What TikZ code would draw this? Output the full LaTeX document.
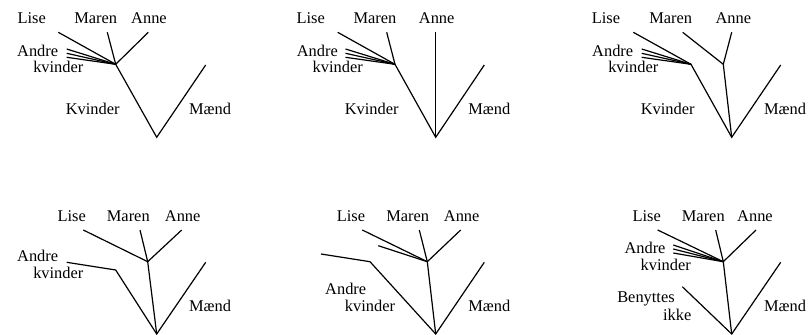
\documentclass[tikz,border=0pt]{standalone}
\usepackage{fontspec}
\setmainfont{Liberation Serif}
\usetikzlibrary{positioning,calc}

\begin{document}
\begin{tikzpicture}[x=0.75pt,y=-0.75pt,
        branch/.style={line width=0.9pt},
        lbl/.style={inner sep=0pt,anchor=base,font=\fontsize{12.3}{14}\selectfont}]
            \useasboundingbox (0,0) rectangle (808,335);

            % tree 1: Kvinder / Maend, all women in one node
            \coordinate (aroot) at (156.7,137.3);
            \coordinate (aw) at (115.7,64.3);
            \coordinate (amen) at (205.7,65);
            \coordinate (alise) at (58.3,32.3);
            \coordinate (amaren) at (107.3,32.3);
            \coordinate (aanne) at (148.3,32.3);
            \draw[branch] (aw) -- (aroot) -- (amen);
            \draw[branch] (alise) -- (aw);
            \draw[branch] (amaren) -- (aw);
            \draw[branch] (aanne) -- (aw);
            \foreach \y in {49,53.3,57.3}
            {
                \draw[branch] (66.7,\y) -- (aw);
            }
            \node[lbl] (alisel) at (31.7,24) {Lise};
            \node[lbl] (amarenl) at (95.7,24) {Maren};
            \node[lbl] (aannel) at (149,24) {Anne};
            \node[lbl] (aandrel) at (37.7,56.7) {Andre};
            \node[lbl] (akvl) at (58.3,72.7) {kvinder};
            \node[lbl] (awl) at (92.7,114.3) {Kvinder};
            \node[lbl] (amenl) at (210,114.3) {Mænd};

            % tree 2: Anne straight from the root
            \coordinate (broot) at (435.7,137.3);
            \coordinate (bw) at (395,64.3);
            \coordinate (bmen) at (484.3,65);
            \coordinate (blise) at (337.7,32.3);
            \coordinate (bmaren) at (386.7,32.3);
            \coordinate (banne) at (435.7,32.3);
            \draw[branch] (bw) -- (broot) -- (bmen);
            \draw[branch] (banne) -- (broot);
            \draw[branch] (blise) -- (bw);
            \draw[branch] (bmaren) -- (bw);
            \foreach \y in {49,53.3,57.3}
            {
                \draw[branch] (345.5,\y) -- (bw);
            }
            \node[lbl] (blisel) at (310.7,24) {Lise};
            \node[lbl] (bmarenl) at (375,24) {Maren};
            \node[lbl] (bannel) at (436.7,24) {Anne};
            \node[lbl] (bandrel) at (317.3,56.7) {Andre};
            \node[lbl] (bkvl) at (337.7,72.7) {kvinder};
            \node[lbl] (bwl) at (371.7,114.3) {Kvinder};
            \node[lbl] (bmenl) at (489.3,114.3) {Mænd};

            % tree 3: Maren and Anne in their own node
            \coordinate (croot) at (731.7,137.3);
            \coordinate (cw) at (691,64.3);
            \coordinate (cma) at (723.3,64.3);
            \coordinate (cmen) at (780.7,65);
            \coordinate (clise) at (633.3,32.3);
            \coordinate (cmaren) at (682.7,32.3);
            \coordinate (canne) at (731.7,32.3);
            \draw[branch] (cw) -- (croot) -- (cmen);
            \draw[branch] (cma) -- (croot);
            \draw[branch] (cmaren) -- (cma) -- (canne);
            \draw[branch] (clise) -- (cw);
            \foreach \y in {49,53.3,57.3}
            {
                \draw[branch] (641.7,\y) -- (cw);
            }
            \node[lbl] (clisel) at (606,24) {Lise};
            \node[lbl] (cmarenl) at (670.7,24) {Maren};
            \node[lbl] (cannel) at (733.3,24) {Anne};
            \node[lbl] (candrel) at (612.7,56.7) {Andre};
            \node[lbl] (ckvl) at (633.3,72.7) {kvinder};
            \node[lbl] (cwl) at (667.7,114.3) {Kvinder};
            \node[lbl] (cmenl) at (785,114.3) {Mænd};

            % tree 4: andre kvinder on a branch of their own
            \coordinate (droot) at (156.7,334);
            \coordinate (dn) at (147.7,261.7);
            \coordinate (dbend) at (115.7,270);
            \coordinate (dandre) at (66.7,262.3);
            \coordinate (dmen) at (205.7,262.3);
            \coordinate (dlise) at (83.3,230);
            \coordinate (dmaren) at (140,230);
            \coordinate (danne) at (181.7,230);
            \draw[branch] (dandre) -- (dbend) -- (droot) -- (dmen);
            \draw[branch] (dn) -- (droot);
            \draw[branch] (dlise) -- (dn);
            \draw[branch] (dmaren) -- (dn);
            \draw[branch] (danne) -- (dn);
            \node[lbl] (dlisel) at (71.7,221) {Lise};
            \node[lbl] (dmarenl) at (128.3,221) {Maren};
            \node[lbl] (dannel) at (182.7,221) {Anne};
            \node[lbl] (dandrel) at (37.7,261.7) {Andre};
            \node[lbl] (dkvl) at (58.3,278.3) {kvinder};
            \node[lbl] (dmenl) at (210,311) {Mænd};

            % tree 5: andre kvinder split in two
            \coordinate (eroot) at (435.7,334);
            \coordinate (en) at (427.3,261.7);
            \coordinate (ebend) at (370,261.7);
            \coordinate (eandre) at (321,254);
            \coordinate (eother) at (378.3,245.7);
            \coordinate (emen) at (484.3,262.3);
            \coordinate (elise) at (362.3,230);
            \coordinate (emaren) at (419.3,230);
            \coordinate (eanne) at (460.7,230);
            \draw[branch] (eandre) -- (ebend) -- (eroot) -- (emen);
            \draw[branch] (en) -- (eroot);
            \draw[branch] (elise) -- (en);
            \draw[branch] (eother) -- (en);
            \draw[branch] (emaren) -- (en);
            \draw[branch] (eanne) -- (en);
            \node[lbl] (elisel) at (351,221) {Lise};
            \node[lbl] (emarenl) at (407.7,221) {Maren};
            \node[lbl] (eannel) at (461.7,221) {Anne};
            \node[lbl] (eandrel) at (345.7,294.3) {Andre};
            \node[lbl] (ekvl) at (370,311) {kvinder};
            \node[lbl] (emenl) at (489.3,311) {Mænd};

            % tree 6: with a branch for those who do not use it
            \coordinate (froot) at (731.7,334);
            \coordinate (fn) at (723.3,261.7);
            \coordinate (fben) at (682.3,286.7);
            \coordinate (fmen) at (780.7,262.3);
            \coordinate (flise) at (657.7,230);
            \coordinate (fmaren) at (715.7,230);
            \coordinate (fanne) at (756,230);
            \draw[branch] (fben) -- (froot) -- (fmen);
            \draw[branch] (fn) -- (froot);
            \draw[branch] (flise) -- (fn);
            \draw[branch] (fmaren) -- (fn);
            \draw[branch] (fanne) -- (fn);
            \foreach \y in {245,249,253}
            {
                \draw[branch] (673.3,\y) -- (fn);
            }
            \node[lbl] (flisel) at (646.7,221) {Lise};
            \node[lbl] (fmarenl) at (703.3,221) {Maren};
            \node[lbl] (fannel) at (755,221) {Anne};
            \node[lbl] (fandrel) at (645,253.3) {Andre};
            \node[lbl] (fkvl) at (665.7,270.7) {kvinder};
            \node[lbl] (fbenl) at (646,302.3) {Benyttes};
            \node[lbl] (fikkel) at (677.3,320) {ikke};
            \node[lbl] (fmenl) at (785,311) {Mænd};
        \end{tikzpicture}
\end{document}
